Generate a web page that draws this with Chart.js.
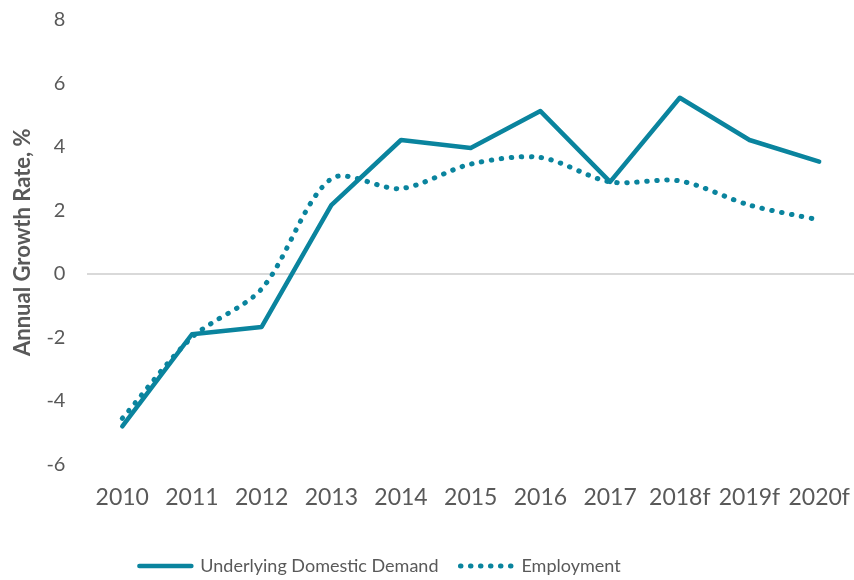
<!DOCTYPE html>
<html>
<head>
<meta charset="utf-8">
<script src="https://cdn.jsdelivr.net/npm/chart.js@4.4.1/dist/chart.umd.min.js"></script>
<style>
  html, body { margin: 0; padding: 0; background: #fff; }
  #wrap { width: 854px; height: 580px; }
</style>
</head>
<body>
<div id="wrap"><canvas id="growthChart"></canvas></div>
<script>
// Chart data
const years = ['2010', '2011', '2012', '2013', '2014', '2015', '2016', '2017', '2018f', '2019f', '2020f'];
const domesticDemand = [-4.8, -1.9, -1.67, 2.17, 4.22, 3.97, 5.13, 2.9, 5.55, 4.22, 3.54];
const employment = [-4.55, -2.0, -0.47, 3.0, 2.69, 3.46, 3.67, 2.9, 2.93, 2.17, 1.7];
const yTicks = [-6, -4, -2, 0, 2, 4, 6, 8];

const teal = '#0a849e';
const grey = '#595959';

// Legend sits a bit left of centre in the original
const legendShift = {
    id: 'legendShift',
    afterLayout: function(chart) {
        if (chart.legend) {
            chart.legend.left -= 47;
            chart.legend.right -= 47;
        }
    }
};

const ctx = document.getElementById('growthChart').getContext('2d');
const growthChart = new Chart(ctx, {
    type: 'line',
    data: {
        labels: years,
        datasets: [{
            label: 'Underlying Domestic Demand',
            data: domesticDemand,
            borderColor: teal,
            backgroundColor: teal,
            borderWidth: 4.5,
            pointRadius: 0,
            tension: 0,
            borderCapStyle: 'round',
            borderJoinStyle: 'round'
        }, {
            label: 'Employment',
            data: employment,
            borderColor: teal,
            backgroundColor: teal,
            borderWidth: 5,
            borderDash: [0.5, 9.5],
            borderCapStyle: 'round',
            pointRadius: 0,
            tension: 0.3
        }]
    },
    plugins: [legendShift],
    options: {
        responsive: true,
        maintainAspectRatio: false,
        animation: false,
        layout: { padding: { top: 20, right: 0, left: 0, bottom: -5 } },
        plugins: {
            legend: {
                position: 'bottom',
                labels: {
                    usePointStyle: true,
                    pointStyle: 'line',
                    pointStyleWidth: 52,
                    boxHeight: 18,
                    color: grey,
                    padding: 22,
                    font: { family: 'Lato', size: 18 },
                    // default labels lose the dash when usePointStyle is on
                    generateLabels: function(chart) {
                        const items = Chart.defaults.plugins.legend.labels.generateLabels(chart);
                        items.forEach((item, i) => {
                            const ds = chart.data.datasets[i];
                            item.lineDash = ds.borderDash || [];
                            item.lineCap = 'round';
                            item.lineWidth = ds.borderWidth;
                            item.strokeStyle = ds.borderColor;
                        });
                        return items;
                    }
                }
            },
            tooltip: { enabled: false }
        },
        scales: {
            x: {
                offset: true,
                grid: {
                    drawOnChartArea: false,
                    drawTicks: true,
                    tickLength: 19,
                    tickColor: 'rgba(0,0,0,0)'
                },
                border: { display: false },
                ticks: {
                    color: grey,
                    padding: 0,
                    maxRotation: 0,
                    autoSkip: false,
                    font: { family: 'Lato', size: 23 }
                },
                afterFit: function(axis) {
                    axis.height += 24;
                }
            },
            y: {
                min: -6,
                max: 8,
                afterBuildTicks: function(axis) {
                    axis.ticks = yTicks.map(v => ({ value: v }));
                },
                grid: {
                    drawTicks: true,
                    tickLength: 22,
                    tickColor: 'rgba(0,0,0,0)',
                    lineWidth: 2,
                    color: function(context) {
                        return context.tick && context.tick.value === 0 ? '#d9d9d9' : 'rgba(0,0,0,0)';
                    }
                },
                border: { display: false },
                ticks: {
                    color: grey,
                    padding: 0,
                    font: { family: 'Lato', size: 20 }
                },
                title: {
                    display: true,
                    text: 'Annual Growth Rate, %',
                    color: grey,
                    padding: { top: 10, bottom: 10 },
                    font: { family: 'Lato', size: 22, weight: 'bold' }
                }
            }
        }
    }
});
</script>
</body>
</html>
